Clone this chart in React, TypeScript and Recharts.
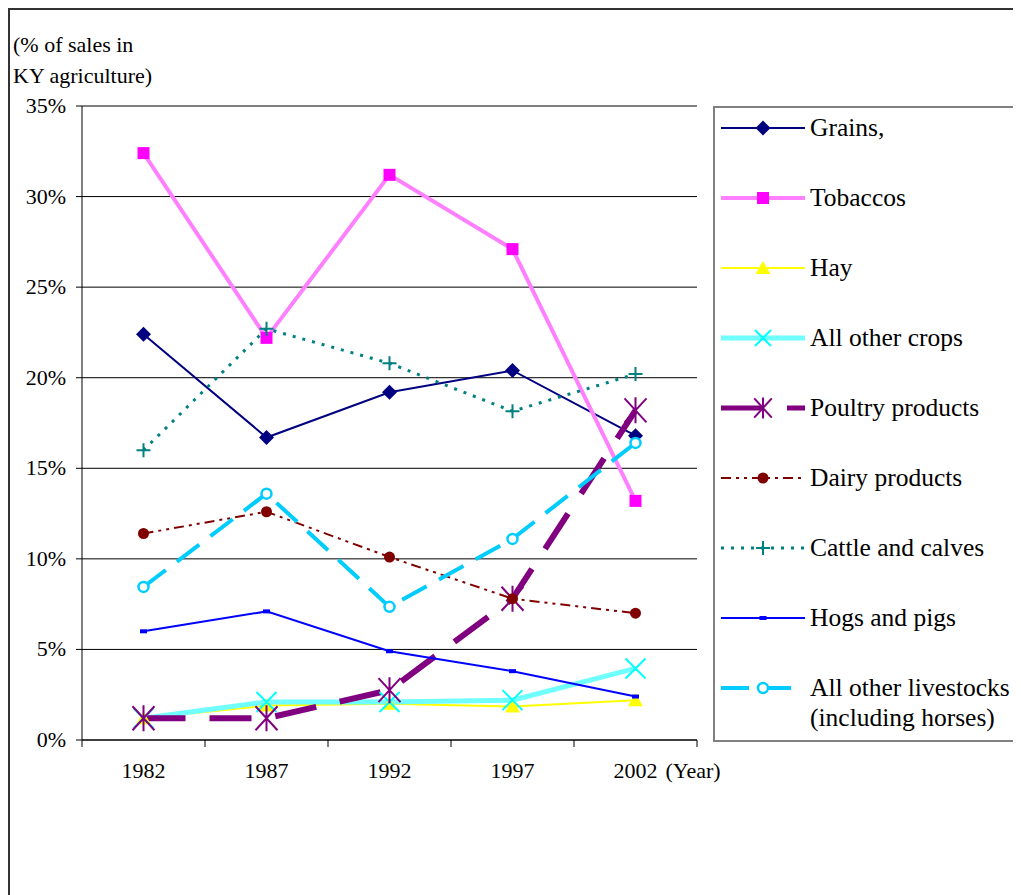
import React from 'react';
import { LineChart, Line, XAxis, YAxis, CartesianGrid } from 'recharts';

const FONT = '"Liberation Serif", "Times New Roman", serif';

// years and shares (% of sales in KY agriculture)
const YEARS = [1982, 1987, 1992, 1997, 2002];
const GRAINS = [22.4, 16.7, 19.2, 20.4, 16.8];
const TOBACCOS = [32.4, 22.2, 31.2, 27.1, 13.2];
const HAY = [1.2, 1.9, 2.0, 1.85, 2.2];
const OTHER_CROPS = [1.2, 2.1, 2.1, 2.2, 3.95];
const POULTRY = [1.2, 1.2, 2.75, 7.8, 18.2];
const DAIRY = [11.4, 12.6, 10.1, 7.8, 7.0];
const CATTLE = [16.0, 22.7, 20.8, 18.15, 20.2];
const HOGS = [6.0, 7.1, 4.9, 3.8, 2.4];
const OTHER_LIVESTOCK = [8.45, 13.6, 7.35, 11.1, 16.4];

const Y_TICKS = [0, 5, 10, 15, 20, 25, 30, 35];

type MarkerKind = 'diamond' | 'square' | 'triangle' | 'x' | 'star' | 'circle' | 'plus' | 'dash' | 'ring';

interface SeriesDef {
  key: string;
  name: string;
  values: number[];
  stroke: string;
  markerColor: string;
  width: number;
  dash?: string;
  marker: MarkerKind;
}

const SERIES: SeriesDef[] = [
  { key: 'grains', name: 'Grains,', values: GRAINS, stroke: '#000080', markerColor: '#000080', width: 2, marker: 'diamond' },
  { key: 'tobaccos', name: 'Tobaccos', values: TOBACCOS, stroke: '#ff80ff', markerColor: '#ff00ff', width: 4, marker: 'square' },
  { key: 'hay', name: 'Hay', values: HAY, stroke: '#ffff00', markerColor: '#ffff00', width: 2, marker: 'triangle' },
  { key: 'crops', name: 'All other crops', values: OTHER_CROPS, stroke: '#70ffff', markerColor: '#00ffff', width: 5, marker: 'x' },
  { key: 'poultry', name: 'Poultry products', values: POULTRY, stroke: '#800080', markerColor: '#800080', width: 6, dash: '42 24', marker: 'star' },
  { key: 'dairy', name: 'Dairy products', values: DAIRY, stroke: '#800000', markerColor: '#800000', width: 2, dash: '10 5 3 5 3 5', marker: 'circle' },
  { key: 'cattle', name: 'Cattle and calves', values: CATTLE, stroke: '#008080', markerColor: '#008080', width: 3, dash: '3 7', marker: 'plus' },
  { key: 'hogs', name: 'Hogs and pigs', values: HOGS, stroke: '#0000ff', markerColor: '#0000ff', width: 2, marker: 'dash' },
  { key: 'livestock', name: 'All other livestocks\n(including horses)', values: OTHER_LIVESTOCK, stroke: '#00ccff', markerColor: '#00ccff', width: 4, dash: '28 14', marker: 'ring' },
];

const rows = YEARS.map((year, i) => {
  const row: Record<string, number> = { year };
  SERIES.forEach((s) => {
    row[s.key] = s.values[i];
  });
  return row;
});

// label ticks at the years, tick marks halfway between them
const X_TICKS = [YEARS[0] - 2.5, ...YEARS.flatMap((y) => [y, y + 2.5])];

function Marker({ kind, color, x, y, scale = 1 }: { kind: MarkerKind; color: string; x: number; y: number; scale?: number }) {
  const s = scale;
  switch (kind) {
    case 'diamond':
      return <path d={`M${x},${y - 7.5 * s}L${x + 7.5 * s},${y}L${x},${y + 7.5 * s}L${x - 7.5 * s},${y}Z`} fill={color} />;
    case 'square':
      return <rect x={x - 6 * s} y={y - 6 * s} width={12 * s} height={12 * s} fill={color} />;
    case 'triangle':
      return <path d={`M${x},${y - 7 * s}L${x + 7.5 * s},${y + 6 * s}L${x - 7.5 * s},${y + 6 * s}Z`} fill={color} />;
    case 'x':
      return (
        <path d={`M${x - 10 * s},${y - 10 * s}L${x + 10 * s},${y + 10 * s}M${x - 10 * s},${y + 10 * s}L${x + 10 * s},${y - 10 * s}`} stroke={color} strokeWidth={2} fill="none" />
      );
    case 'star':
      return (
        <path
          d={`M${x - 11 * s},${y - 12 * s}L${x + 11 * s},${y + 12 * s}M${x - 11 * s},${y + 12 * s}L${x + 11 * s},${y - 12 * s}M${x},${y - 13 * s}L${x},${y + 13 * s}`}
          stroke={color}
          strokeWidth={2}
          fill="none"
        />
      );
    case 'circle':
      return <circle cx={x} cy={y} r={5.5 * s} fill={color} />;
    case 'plus':
      return <path d={`M${x - 7 * s},${y}L${x + 7 * s},${y}M${x},${y - 7 * s}L${x},${y + 7 * s}`} stroke={color} strokeWidth={2} fill="none" />;
    case 'dash':
      return <rect x={x - 3.5} y={y - 2} width={7} height={4} fill={color} />;
    case 'ring':
      return <circle cx={x} cy={y} r={5 * s} fill="#fff" stroke={color} strokeWidth={2.5} />;
    default:
      return null;
  }
}

const renderDot = (s: SeriesDef) => (props: any) => {
  const { cx, cy, index } = props;
  const k = `${s.key}-dot-${index}`;
  if (cx == null || cy == null) return <g key={k} />;
  return (
    <g key={k}>
      <Marker kind={s.marker} color={s.markerColor} x={cx} y={cy} />
    </g>
  );
};

function YearTick(props: any) {
  const { x, y, payload } = props;
  const v = payload.value as number;
  if (!Number.isInteger(v)) {
    return <line x1={x} y1={y} x2={x} y2={y + 7} stroke="#000" strokeWidth={1} />;
  }
  const last = v === YEARS[YEARS.length - 1];
  return (
    <g>
      <text x={x} y={y + 38} textAnchor="middle" fill="#000" fontSize={22} fontFamily={FONT}>
        {v}
      </text>
      {last && (
        <text x={x + 30} y={y + 38} textAnchor="start" fill="#000" fontSize={22} fontFamily={FONT}>
          (Year)
        </text>
      )}
    </g>
  );
}

function PercentTick(props: any) {
  const { x, y, payload } = props;
  return (
    <text x={x} y={y + 7} textAnchor="end" fill="#000" fontSize={22} fontFamily={FONT}>
      {`${payload.value}%`}
    </text>
  );
}

function LegendSample({ s }: { s: SeriesDef }) {
  const big = s.marker === 'x' || s.marker === 'star';
  return (
    <svg width={84} height={44} style={{ flex: 'none' }}>
      <line x1={0} y1={22} x2={84} y2={22} stroke={s.stroke} strokeWidth={Math.min(s.width, 5)} strokeDasharray={s.dash} />
      <Marker kind={s.marker} color={s.markerColor} x={42} y={22} scale={big ? 0.8 : 1} />
    </svg>
  );
}

export default function App() {
  return (
    <div style={{ position: 'relative', width: 1013, height: 887, fontFamily: FONT }}>
      <style>{'body{overflow:hidden;}'}</style>
      <div
        style={{
          position: 'absolute',
          left: 0,
          top: 0,
          width: 1013,
          height: 887,
          borderTop: '2px solid #333',
          borderLeft: '2px solid #333',
          boxSizing: 'border-box',
        }}
      />
      <div style={{ position: 'absolute', left: 5, top: 21, fontSize: 22, lineHeight: '31px', color: '#000' }}>
        (% of sales in
        <br />
        KY agriculture)
      </div>

      <div style={{ position: 'absolute', left: 0, top: 0 }}>
        <LineChart width={749} height={782} data={rows} margin={{ top: 98, right: 60, bottom: 10, left: 14 }}>
          <CartesianGrid vertical={false} stroke="#000" strokeWidth={1} />
          <XAxis
            dataKey="year"
            type="number"
            domain={[X_TICKS[0], X_TICKS[X_TICKS.length - 1]]}
            ticks={X_TICKS}
            interval={0}
            tickLine={false}
            tickSize={0}
            tickMargin={0}
            height={40}
            axisLine={{ stroke: '#000' }}
            tick={<YearTick />}
          />
          <XAxis
            xAxisId="top"
            orientation="top"
            dataKey="year"
            type="number"
            domain={[X_TICKS[0], X_TICKS[X_TICKS.length - 1]]}
            height={0}
            tick={false}
            tickLine={false}
            axisLine={{ stroke: '#808080', strokeWidth: 2 }}
          />
          <YAxis
            domain={[0, 35]}
            ticks={Y_TICKS}
            interval={0}
            width={60}
            tickSize={6}
            tickMargin={10}
            axisLine={{ stroke: '#000' }}
            tickLine={{ stroke: '#000' }}
            tick={<PercentTick />}
          />
          <YAxis
            yAxisId="right"
            orientation="right"
            domain={[0, 35]}
            width={0}
            tick={false}
            tickLine={false}
            axisLine={{ stroke: '#808080', strokeWidth: 2 }}
          />
          {SERIES.map((s) => (
            <Line
              key={s.key}
              dataKey={s.key}
              name={s.name}
              type="linear"
              stroke={s.stroke}
              strokeWidth={s.width}
              strokeDasharray={s.dash}
              dot={renderDot(s)}
              activeDot={false}
              isAnimationActive={false}
            />
          ))}
        </LineChart>
      </div>

      <div
        style={{
          position: 'absolute',
          left: 705,
          top: 98,
          width: 306,
          height: 636,
          border: '2px solid #808080',
          boxSizing: 'border-box',
        }}
      >
        {SERIES.map((s) => (
          <div key={s.key} style={{ display: 'flex', alignItems: 'flex-start', height: 44, marginBottom: 26 }}>
            <div style={{ marginLeft: 6, marginTop: -2 }}>
              <LegendSample s={s} />
            </div>
            <div style={{ marginLeft: 5, paddingTop: 5, fontSize: 25.5, lineHeight: '30px', whiteSpace: 'pre', color: '#000' }}>
              {s.name}
            </div>
          </div>
        ))}
      </div>
    </div>
  );
}
